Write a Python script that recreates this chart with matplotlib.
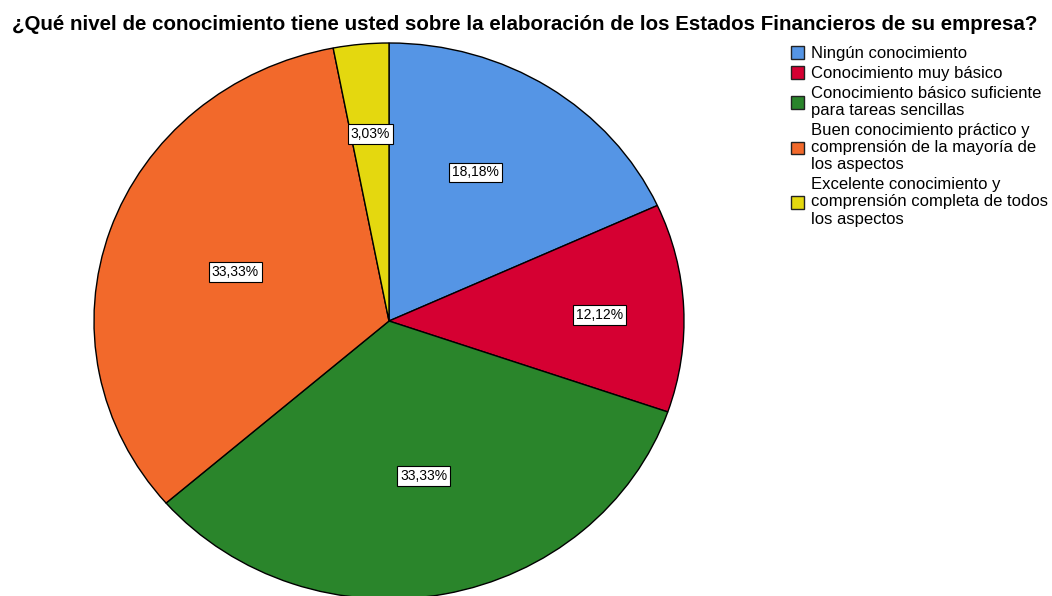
import matplotlib.pyplot as plt
import numpy as np

plt.rcParams['font.family'] = ['Liberation Sans', 'DejaVu Sans']

title = '¿Qué nivel de conocimiento tiene usted sobre la elaboración de los Estados Financieros de su empresa?'
labels = ['Ningún conocimiento',
          'Conocimiento muy básico',
          'Conocimiento básico suficiente\npara tareas sencillas',
          'Buen conocimiento práctico y\ncomprensión de la mayoría de\nlos aspectos',
          'Excelente conocimiento y\ncomprensión completa de todos\nlos aspectos']
percents = [18.18, 12.12, 33.33, 33.33, 3.03]
pct_labels = ['18,18%', '12,12%', '33,33%', '33,33%', '3,03%']
colors = ['#5595E5', '#D50032', '#2A852B', '#F2692B', '#E4D80F']
# label placement (fraction of radius, angle shift in degrees)
label_dist = [0.61, 0.715, 0.57, 0.55, 0.675]
label_shift = [4.0, -1.0, 1.0, 0.5, 0.0]

W, H = 1052, 596
fig = plt.figure(figsize=(W / 100, H / 100), dpi=100)

# pie ellipse: centre (389, 321) px, radii 295 x 278 px
cx, cy, rx, ry = 389, 321, 295, 278
ax = fig.add_axes([(cx - rx) / W, (H - cy - ry) / H, 2 * rx / W, 2 * ry / H])
wedges, _ = ax.pie(percents, colors=colors, startangle=90, counterclock=False,
                   radius=1, wedgeprops=dict(edgecolor='black', linewidth=1))
ax.set_aspect('auto')
ax.set_xlim(-1, 1)
ax.set_ylim(-1, 1)
ax.axis('off')

for w, txt, d, s in zip(wedges, pct_labels, label_dist, label_shift):
    mid = np.deg2rad((w.theta1 + w.theta2) / 2 + s)
    ax.text(d * np.cos(mid), d * np.sin(mid), txt, ha='center', va='center', fontsize=10,
            bbox=dict(boxstyle='square,pad=0.2', facecolor='white', edgecolor='black', linewidth=0.8))

fig.text(525 / W, 1 - 25 / H, title, ha='center', va='center', fontsize=14.8, fontweight='bold')

handles = [plt.Rectangle((0, 0), 1, 1, facecolor=c, edgecolor='#222222', linewidth=1) for c in colors]
leg = fig.legend(handles, labels, loc='upper left', bbox_to_anchor=(791 / W, 1 - 46 / H),
                 frameon=False, fontsize=12, borderpad=0, borderaxespad=0,
                 handlelength=0.8, handleheight=0.8, handletextpad=0.4, labelspacing=0.3)
for t in leg.get_texts():
    t.set_linespacing(1.17)

fig.savefig('out.png', dpi=100)
